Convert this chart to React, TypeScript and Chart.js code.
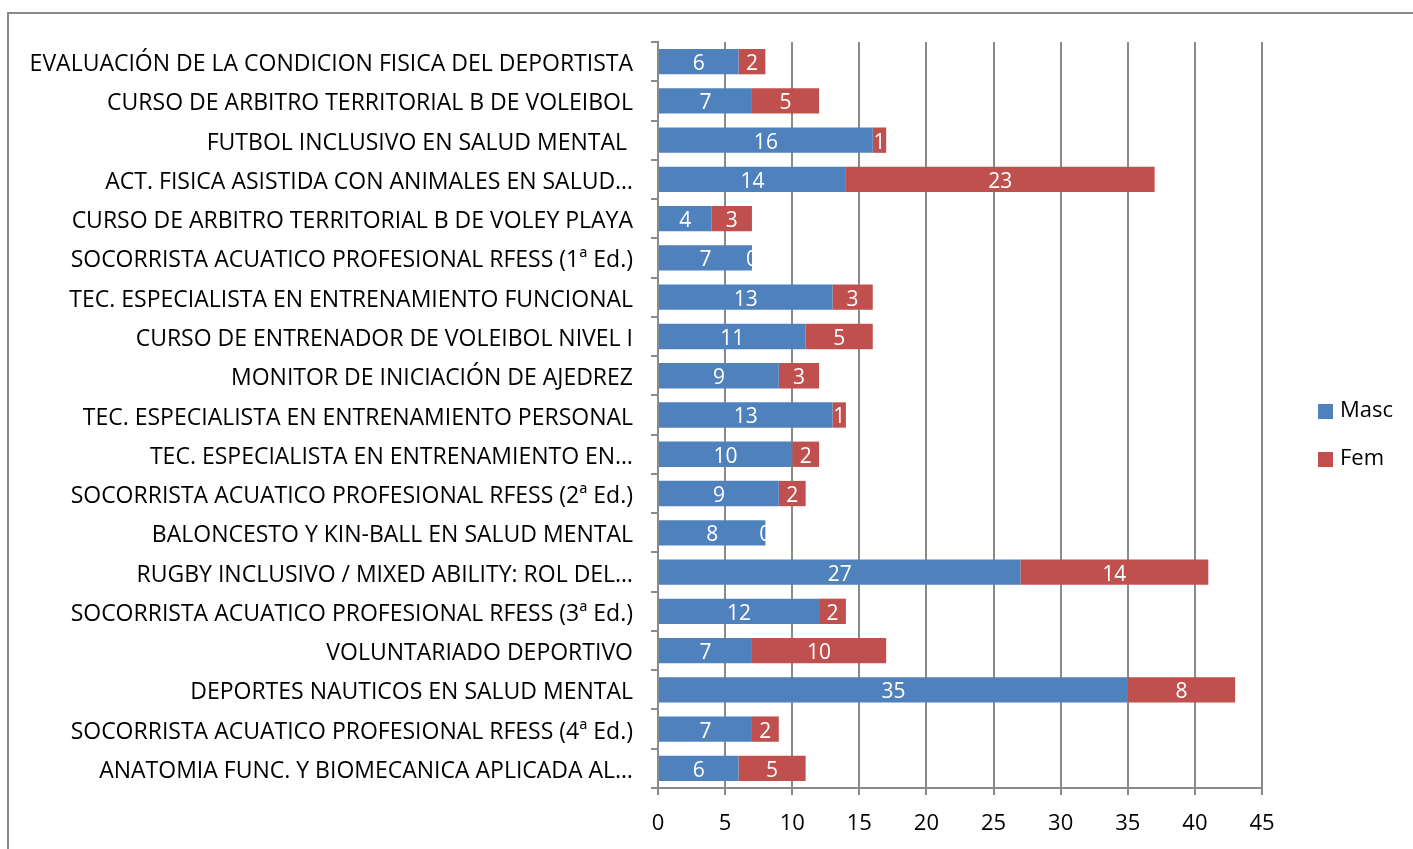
import React, { useEffect, useRef } from 'react';
import { Chart, registerables } from 'chart.js';

Chart.register(...registerables);

const categories = [
  'EVALUACIÓN DE LA CONDICION FISICA DEL DEPORTISTA',
  'CURSO DE ARBITRO TERRITORIAL B DE VOLEIBOL',
  'FUTBOL INCLUSIVO EN SALUD MENTAL ',
  'ACT. FISICA ASISTIDA CON ANIMALES EN SALUD…',
  'CURSO DE ARBITRO TERRITORIAL B DE VOLEY PLAYA',
  'SOCORRISTA ACUATICO PROFESIONAL RFESS (1ª Ed.)',
  'TEC. ESPECIALISTA EN ENTRENAMIENTO FUNCIONAL',
  'CURSO DE ENTRENADOR DE VOLEIBOL NIVEL I',
  'MONITOR DE INICIACIÓN DE AJEDREZ',
  'TEC. ESPECIALISTA EN ENTRENAMIENTO PERSONAL',
  'TEC. ESPECIALISTA EN ENTRENAMIENTO EN…',
  'SOCORRISTA ACUATICO PROFESIONAL RFESS (2ª Ed.)',
  'BALONCESTO Y KIN-BALL EN SALUD MENTAL',
  'RUGBY INCLUSIVO / MIXED ABILITY: ROL DEL…',
  'SOCORRISTA ACUATICO PROFESIONAL RFESS (3ª Ed.)',
  'VOLUNTARIADO DEPORTIVO',
  'DEPORTES NAUTICOS EN SALUD MENTAL',
  'SOCORRISTA ACUATICO PROFESIONAL RFESS (4ª Ed.)',
  'ANATOMIA FUNC. Y BIOMECANICA APLICADA AL…',
];

const masc = [6, 7, 16, 14, 4, 7, 13, 11, 9, 13, 10, 9, 8, 27, 12, 7, 35, 7, 6];
const fem = [2, 5, 1, 23, 3, 0, 3, 5, 3, 1, 2, 2, 0, 14, 2, 10, 8, 2, 5];

const seriesNames = ['Masc', 'Fem'];
const seriesColors = ['#4F81BD', '#C0504D'];

const xMin = 0;
const xMax = 45;
const xStep = 5;

const FONT = '"Open Sans", Lato, "DejaVu Sans", sans-serif';
const GRID = '#8a8a8a';

const barLabelPlugin = {
  id: 'barLabels',
  afterDatasetsDraw(chart: any) {
    const ctx = chart.ctx;
    ctx.save();
    ctx.font = `21px ${FONT}`;
    ctx.fillStyle = '#ffffff';
    ctx.textAlign = 'center';
    ctx.textBaseline = 'middle';
    chart.data.datasets.forEach((ds: any, di: number) => {
      const meta = chart.getDatasetMeta(di);
      meta.data.forEach((el: any, i: number) => {
        const v = ds.data[i];
        const cx = (el.x + el.base) / 2;
        ctx.fillText(String(v), cx, el.y + 2.5);
      });
    });
    ctx.restore();
  },
};

const legendPlugin = {
  id: 'customLegend',
  afterDraw(chart: any) {
    const ctx = chart.ctx;
    ctx.save();
    ctx.font = `22px ${FONT}`;
    ctx.textAlign = 'left';
    ctx.textBaseline = 'middle';
    const x0 = 1318;
    const y0 = 411;
    const gap = 48;
    chart.data.datasets.forEach((ds: any, i: number) => {
      const y = y0 + i * gap;
      ctx.fillStyle = ds.backgroundColor;
      ctx.fillRect(x0, y - 7, 15, 15);
      ctx.fillStyle = '#000000';
      ctx.fillText(ds.label, x0 + 22, y);
    });
    ctx.restore();
  },
};

export default function App() {
  const ref = useRef<HTMLCanvasElement>(null);

  useEffect(() => {
    if (!ref.current) return;
    const chart = new Chart(ref.current, {
      type: 'bar',
      data: {
        labels: categories,
        datasets: [
          { label: seriesNames[0], data: masc, backgroundColor: seriesColors[0], barPercentage: 0.645, categoryPercentage: 1 },
          { label: seriesNames[1], data: fem, backgroundColor: seriesColors[1], barPercentage: 0.645, categoryPercentage: 1 },
        ],
      },
      options: {
        indexAxis: 'y',
        animation: false,
        responsive: false,
        devicePixelRatio: 1,
        layout: { padding: { top: 42, right: 151, bottom: 11, left: 0 } },
        plugins: {
          legend: { display: false },
          tooltip: { enabled: false },
        },
        scales: {
          x: {
            type: 'linear',
            stacked: true,
            min: xMin,
            max: xMax,
            ticks: { stepSize: xStep, color: '#000', font: { size: 22, family: FONT }, padding: 16 },
            grid: { color: GRID, lineWidth: 2, tickLength: 7, drawTicks: true },
            border: { display: true, color: GRID, width: 2 },
            afterFit: (s: any) => { s.height = 50; },
          },
          y: {
            type: 'category',
            stacked: true,
            ticks: { color: '#000', font: { size: 23, family: FONT }, padding: 18, autoSkip: false, labelOffset: 3 },
            grid: { drawOnChartArea: false, color: GRID, lineWidth: 2, tickLength: 7, offset: true },
            border: { display: true, color: GRID, width: 2 },
            afterFit: (s: any) => { s.width = 658; },
          },
        },
      },
      plugins: [barLabelPlugin, legendPlugin],
    } as any);
    return () => chart.destroy();
  }, []);

  return (
    <div style={{ position: 'fixed', left: 0, top: 0, width: 1413, height: 849, overflow: 'hidden', background: '#fff' }}>
      <canvas ref={ref} width={1413} height={849} style={{ position: 'absolute', left: 0, top: 0, width: 1413, height: 849 }} />
      <div style={{ position: 'absolute', left: 7, top: 12, width: 1600, height: 1000, border: '2px solid #8a8a8a', pointerEvents: 'none' }} />
    </div>
  );
}
